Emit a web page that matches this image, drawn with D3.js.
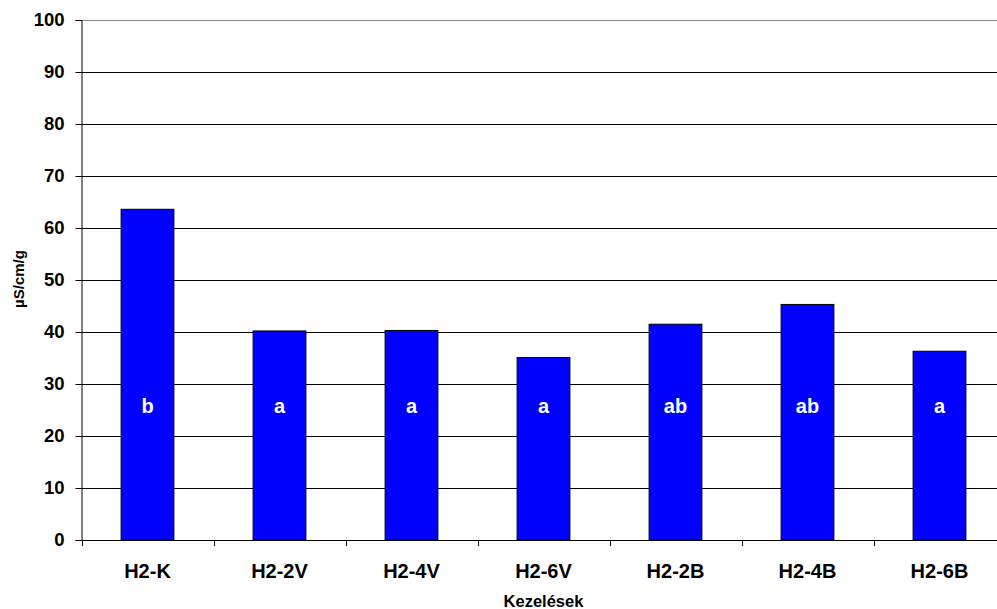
<!DOCTYPE html>
<html><head><meta charset="utf-8">
<script src="https://cdn.jsdelivr.net/npm/d3@7"></script>
<style>body{margin:0;background:#fff}svg{display:block}text{font-family:Arial,"Liberation Sans",sans-serif;font-weight:bold}</style>
</head><body><svg id="c" width="997" height="609"></svg>
<script>
const categories = ["H2-K","H2-2V","H2-4V","H2-6V","H2-2B","H2-4B","H2-6B"];
const values = [63.6, 40.2, 40.3, 35.1, 41.5, 45.3, 36.3];
const letters = ["b","a","a","a","ab","ab","a"];
const yTicks = [0,10,20,30,40,50,60,70,80,90,100];

(function(){
const svg = d3.select("#c");
const pL = 81.5, pR = 1005.5, pT = 20, pB = 540;
const x = d3.scaleBand().domain(categories).range([pL, pR]).paddingInner(0).paddingOuter(0);
const y = d3.scaleLinear().domain([0,100]).range([pB, pT]);

// gridlines
svg.append("g").selectAll("line").data(yTicks.filter(d=>d>0)).join("line")
  .attr("x1", pL).attr("x2", 997)
  .attr("y1", d=>Math.round(y(d))+0.5).attr("y2", d=>Math.round(y(d))+0.5)
  .attr("stroke", d=> d===100 ? "#888" : "#000").attr("stroke-width",1);

// bars
const bw = x.bandwidth()*0.4;
svg.append("g").selectAll("rect").data(categories).join("rect")
  .attr("x", (d)=> x(d)+x.bandwidth()/2 - bw/2)
  .attr("y", (d,i)=> y(values[i]))
  .attr("width", bw)
  .attr("height", (d,i)=> y(0)-y(values[i]))
  .attr("fill","#0000ff").attr("stroke","#000").attr("stroke-width",1);

// letters
svg.append("g").selectAll("text").data(categories).join("text")
  .attr("x", d=> x(d)+x.bandwidth()/2)
  .attr("y", 413)
  .attr("text-anchor","middle").attr("fill","#fff").attr("font-size",20)
  .text((d,i)=>letters[i]);

// y axis
const ya = d3.axisLeft(y).tickValues(yTicks).tickSize(6).tickPadding(11);
const gy = svg.append("g").attr("transform",`translate(${pL},0)`).call(ya);
gy.select(".domain").attr("stroke","#000");
gy.selectAll("text").attr("font-size",18.5).attr("fill","#000").style("font-family","Arial, 'Liberation Sans', sans-serif").style("font-weight","bold");

// x axis
const gx = svg.append("g").attr("transform",`translate(0,${pB})`);
gx.append("line").attr("x1",pL).attr("x2",997).attr("y1",0.5).attr("y2",0.5).attr("stroke","#000");
const edges = categories.map(c=>x(c)).concat([pR]);
gx.selectAll("line.t").data(edges.filter(e=>e<997)).join("line").attr("class","t")
  .attr("x1",d=>Math.round(d)+0.5).attr("x2",d=>Math.round(d)+0.5).attr("y1",0).attr("y2",6).attr("stroke","#000");
gx.selectAll("text").data(categories).join("text")
  .attr("x", d=> x(d)+x.bandwidth()/2).attr("y", 38)
  .attr("text-anchor","middle").attr("font-size",20).attr("fill","#000").text(d=>d);

// titles
svg.append("text").attr("x", 543.5).attr("y", 607).attr("text-anchor","middle")
  .attr("font-size",16.5).text("Kezelések");
svg.append("text").attr("transform","translate(24,279) rotate(-90)").attr("text-anchor","middle")
  .attr("font-size",15).text("µS/cm/g");
})();
</script></body></html>
